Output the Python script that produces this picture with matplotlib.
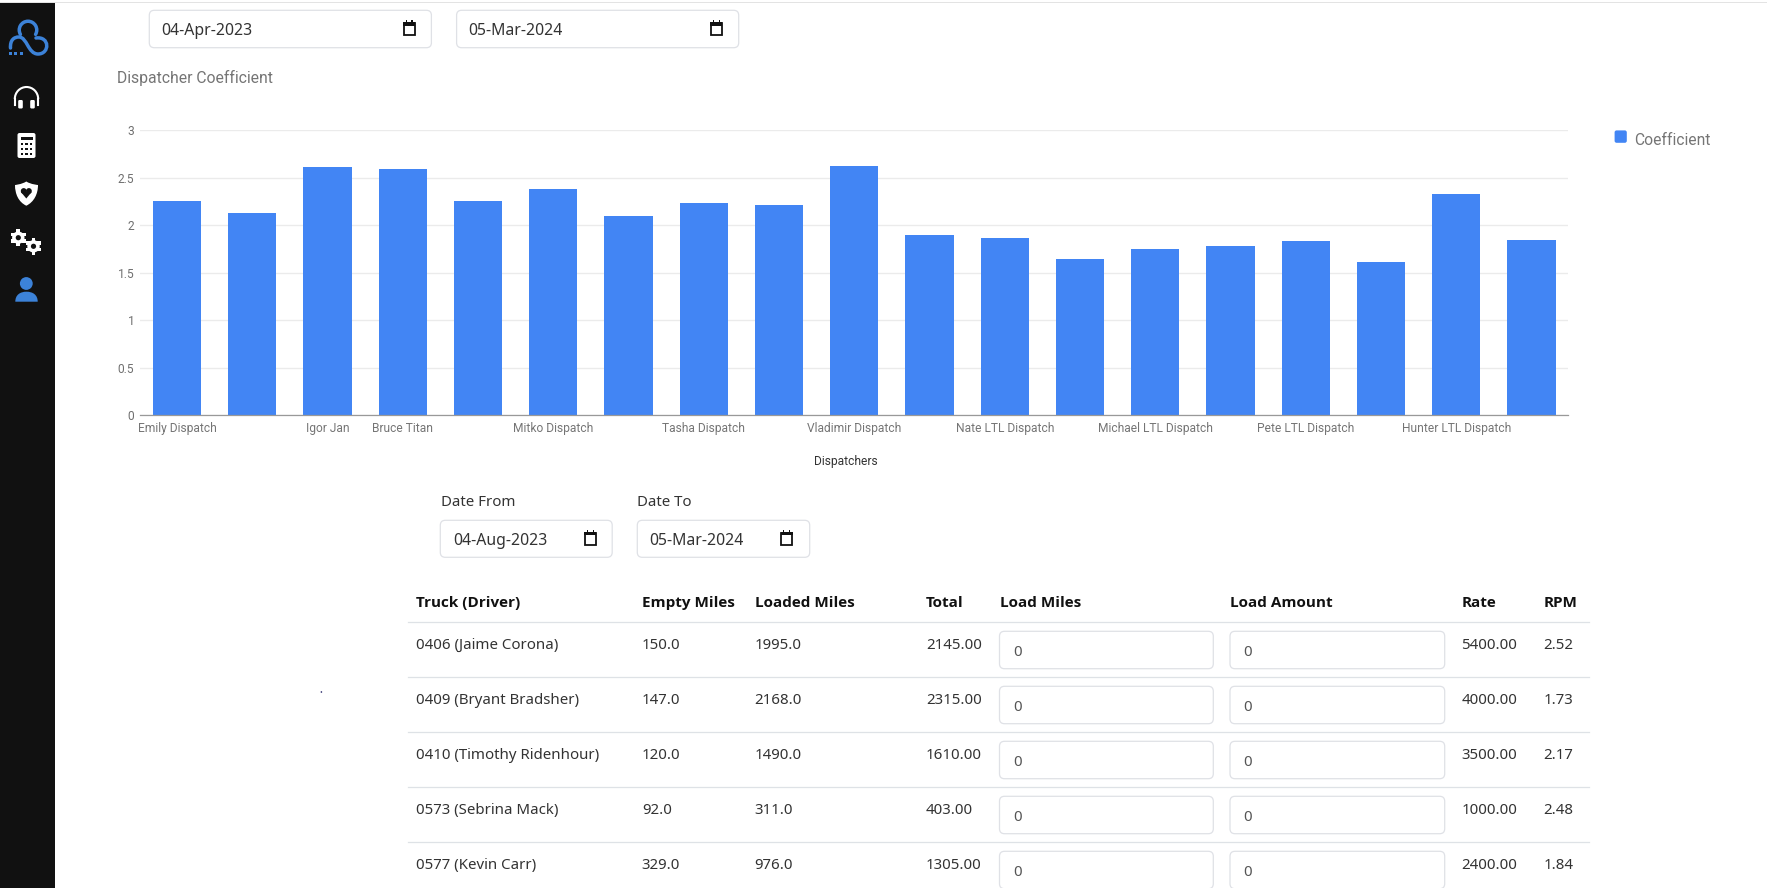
import numpy as np
import matplotlib
matplotlib.use("Agg")
import matplotlib.pyplot as plt
from matplotlib.patches import Rectangle, FancyBboxPatch, Circle, Arc, Polygon, PathPatch
from matplotlib.path import Path

# ---- chart data ----
categories = ["Emily Dispatch", "", "Igor Jan", "Bruce Titan", "", "Mitko Dispatch", "", "Tasha Dispatch", "",
              "Vladimir Dispatch", "", "Nate LTL Dispatch", "", "Michael LTL Dispatch", "", "Pete LTL Dispatch",
              "", "Hunter LTL Dispatch", ""]
coefficient = [2.255, 2.133, 2.612, 2.592, 2.255, 2.38, 2.095, 2.23, 2.217, 2.62,
               1.898, 1.87, 1.645, 1.747, 1.78, 1.833, 1.617, 2.325, 1.842]
y_ticks = [0, 0.5, 1, 1.5, 2, 2.5, 3]
y_tick_labels = ["0", "0.5", "1", "1.5", "2", "2.5", "3"]

# ---- table data ----
headers = ["Truck (Driver)", "Empty Miles", "Loaded Miles", "Total", "Load Miles", "Load Amount", "Rate", "RPM"]
drivers = ["0406 (Jaime Corona)", "0409 (Bryant Bradsher)", "0410 (Timothy Ridenhour)", "0573 (Sebrina Mack)", "0577 (Kevin Carr)"]
empty_miles = ["150.0", "147.0", "120.0", "92.0", "329.0"]
loaded_miles = ["1995.0", "2168.0", "1490.0", "311.0", "976.0"]
totals = ["2145.00", "2315.00", "1610.00", "403.00", "1305.00"]
rates = ["5400.00", "4000.00", "3500.00", "1000.00", "2400.00"]
rpms = ["2.52", "1.73", "2.17", "2.48", "1.84"]

W, H, DPI = 1767, 888, 100
BLUE = "#4285F4"
ICON = "#3C82D8"
TXT = 1.8  # vertical nudge for page text


def px(v):
    return v * 72 / DPI


fig = plt.figure(figsize=(W / DPI, H / DPI), dpi=DPI, facecolor="white")
ui = fig.add_axes([0, 0, 1, 1], zorder=0)
ui.set_xlim(0, W)
ui.set_ylim(H, 0)
ui.axis("off")

# top line and sidebar
ui.add_patch(Rectangle((0, 2), W, 1.2, fc="#e3e3e3", ec="none"))
ui.add_patch(Rectangle((0, 3), 55, H, fc="#111111", ec="none"))


def box(x0, y0, x1, y1, r=5, ec="#dfe1e6"):
    ui.add_patch(FancyBboxPatch((x0 + r, y0 + r), x1 - x0 - 2 * r, y1 - y0 - 2 * r,
                                boxstyle=f"round,pad={r},rounding_size={r}", fc="white", ec=ec, lw=0.9))


def calendar(x, y):
    ui.add_patch(Rectangle((x - 5.5, y - 5.5), 11, 12, fc="white", ec="#111111", lw=1.3))
    ui.add_patch(Rectangle((x - 6, y - 6.5), 12, 3.6, fc="#111111", ec="none"))
    ui.add_patch(Rectangle((x - 3.5, y - 8), 1.2, 2, fc="#111111", ec="none"))
    ui.add_patch(Rectangle((x + 2.3, y - 8), 1.2, 2, fc="#111111", ec="none"))


def date_input(x0, y0, x1, y1, label, tx, ix, size=15.8):
    box(x0, y0, x1, y1)
    ui.text(tx - 0.8, (y0 + y1) / 2 + 0.5 + TXT, label, family="Noto Sans", fontsize=px(size), color="#333333", va="center")
    calendar(ix, (y0 + y1) / 2 - 0.5)


# logo
line = dict(fill=False, ec=ICON, lw=2.5, capstyle="round")
ui.add_patch(Arc((28, 30), 17.5, 17.5, theta1=150, theta2=30, **line))
curve = Path([(10.5, 48), (10, 40), (14, 37), (19, 37), (27, 37), (28, 54), (38, 54), (50, 54), (50, 36), (36, 38)],
             [Path.MOVETO] + [Path.CURVE4] * 9)
ui.add_patch(PathPatch(curve, **line))
for dx in (10.5, 15.5, 21.5):
    ui.add_patch(Rectangle((dx - 1.2, 52), 2.4, 2.6, fc=ICON, ec="none"))

# headphones
ui.add_patch(Arc((26.5, 99), 23.4, 24, theta1=180, theta2=360, fill=False, ec="white", lw=1.5))
ui.plot([14.8, 14.8], [99, 105], color="white", lw=1.5)
ui.plot([38.2, 38.2], [99, 105], color="white", lw=1.5)
for cx in (20.5, 32.5):
    ui.add_patch(FancyBboxPatch((cx - 1.3, 101), 2.6, 6.5, boxstyle="round,pad=1,rounding_size=1.3", fc="white", ec="none"))

# calculator
ui.add_patch(FancyBboxPatch((18.5, 134), 16, 23, boxstyle="round,pad=1,rounding_size=2", fc="white", ec="none"))
ui.add_patch(Rectangle((20.5, 137), 12, 3.5, fc="#111111", ec="none"))
for yy in (144, 149, 154):
    for xx in (22, 26.5, 31):
        ui.add_patch(Rectangle((xx - 1.2, yy - 1.2), 2.4, 2.4, fc="#111111", ec="none"))

# shield with heart
shield = Path([(26.3, 181.5), (31, 184.5), (38, 185), (38, 185), (38, 194), (34, 202), (26.3, 205.7),
               (18.5, 202), (15, 194), (15, 185), (15, 185), (21.5, 184.5), (26.3, 181.5)],
              [Path.MOVETO] + [Path.CURVE4] * 12)
ui.add_patch(PathPatch(shield, fc="white", ec="none"))
ui.add_patch(Circle((23.7, 191), 2.9, fc="#111111", ec="none"))
ui.add_patch(Circle((28.9, 191), 2.9, fc="#111111", ec="none"))
ui.add_patch(Polygon([(20.9, 192), (31.7, 192), (26.3, 198.5)], fc="#111111", ec="none"))


# gears
def gear(cx, cy, r):
    for a in np.arange(0, 360, 60):
        t = np.deg2rad(a + 30)
        ui.add_patch(Rectangle((cx + (r + 0.3) * np.cos(t) - 1.9, cy + (r + 0.3) * np.sin(t) - 1.9), 3.8, 3.8,
                               fc="white", ec="none"))
    ui.add_patch(Circle((cx, cy), r, fc="white", ec="none"))
    ui.add_patch(Circle((cx, cy), r * 0.42, fc="#111111", ec="none"))


gear(18.3, 237.7, 6.2)
gear(33.5, 246.3, 6.2)

# user
ui.add_patch(Circle((26.3, 283.5), 6.4, fc=ICON, ec="none"))
body = Path([(15.3, 301.7), (15.3, 295), (20, 291.7), (26.5, 291.7), (33, 291.7), (37.7, 295), (37.7, 301.7), (15.3, 301.7)],
            [Path.MOVETO, Path.CURVE4, Path.CURVE4, Path.CURVE4, Path.CURVE4, Path.CURVE4, Path.CURVE4, Path.CLOSEPOLY])
ui.add_patch(PathPatch(body, fc=ICON, ec="none"))

# top date inputs
date_input(149.3, 10.3, 431.4, 47.7, "04-Apr-2023", 162, 409)
date_input(456.6, 10.3, 738.7, 47.7, "05-Mar-2024", 469.5, 716.4)

# chart title
ui.text(117.3, 78.3, "Dispatcher Coefficient", family="Roboto", fontsize=px(15.8), color="#757575", va="center")

# chart
left, right, top, bottom = 139.8, 1567.6, 130.3, 415.0
ax = fig.add_axes([left / W, (H - bottom) / H, (right - left) / W, (bottom - top) / H], zorder=2)
ax.patch.set_alpha(0)
x = np.arange(len(coefficient))
ax.bar(x, coefficient, width=0.64, color=BLUE, label="Coefficient", zorder=3)
ax.set_xlim(-0.494, 18.48)
ax.set_ylim(0, 3)
ax.set_yticks(y_ticks, y_tick_labels, family="Roboto", fontsize=px(12), color="#6f6f6f")
ax.set_xticks(x, categories, family="Roboto", fontsize=px(12), color="#757575")
ax.tick_params(axis="both", length=0)
ax.tick_params(axis="y", pad=px(5.5))
ax.tick_params(axis="x", pad=px(7))
ax.grid(axis="y", color="#ebebeb", lw=1.0, zorder=0)
ax.set_axisbelow(True)
for s in ("top", "left", "right"):
    ax.spines[s].set_visible(False)
ax.spines["bottom"].set_color("#999999")
ax.spines["bottom"].set_linewidth(0.9)
ax.spines["bottom"].set_zorder(4)
fig.text(846 / W, (H - 461.5) / H, "Dispatchers", family="Roboto", fontsize=px(12), color="#333333", ha="center", va="center")

# legend
ui.add_patch(FancyBboxPatch((1616, 131.8), 9.4, 9.6, boxstyle="round,pad=1.4,rounding_size=2", fc=BLUE, ec="none"))
ui.text(1634.5, 140.6, "Coefficient", family="Roboto", fontsize=px(15.6), color="#757575", va="center")

# second date inputs
ui.text(440.8, 500.7 + TXT, "Date From", family="Noto Sans", fontsize=px(15), color="#333333", va="center")
ui.text(637.3, 500.7 + TXT, "Date To", family="Noto Sans", fontsize=px(15), color="#333333", va="center")
date_input(440.3, 520.3, 612.2, 557.3, "04-Aug-2023", 453.6, 590.3)
date_input(637.3, 520.3, 809.7, 557.3, "05-Mar-2024", 650.5, 786.7)

# table
col_x = [416.3, 641.8, 754.6, 926, 1000, 1230.4, 1461.4, 1543.5]
for cx, h in zip(col_x, headers):
    ui.text(cx, 602.7 + 0.4, h, family="Open Sans", fontsize=px(15.2), fontweight="bold", color="#111111", va="center")
ROW = 55.0
ui.plot([408.2, 1589], [622.3, 622.3], color="#dee2e6", lw=0.9)
for i in range(len(drivers)):
    y = 643.7 + ROW * i + TXT
    for cx, t in ((col_x[0], drivers[i]), (col_x[1], empty_miles[i]), (col_x[2], loaded_miles[i]), (col_x[3], totals[i]),
                  (col_x[6], rates[i]), (col_x[7], rpms[i])):
        ui.text(cx, y, t, family="Noto Sans", fontsize=px(15), color="#333333", va="center")
    if i < len(drivers) - 1:
        ui.plot([408.2, 1589], [677.3 + ROW * i] * 2, color="#dee2e6", lw=0.9)
    for x0, x1, tx in ((999.5, 1213.3, 1012.8), (1230, 1444.7, 1243)):
        box(x0, 631.3 + ROW * i, x1, 668.7 + ROW * i)
        ui.text(tx, 650.7 + ROW * i + TXT, "0", family="Noto Sans", fontsize=px(15), color="#555555", va="center")

# small stray dot
ui.add_patch(Circle((321.4, 692), 0.8, fc="#222266", ec="none"))

ui.set_xlim(0, W)
ui.set_ylim(H, 0)
fig.savefig("out.png", dpi=DPI, facecolor="white")
